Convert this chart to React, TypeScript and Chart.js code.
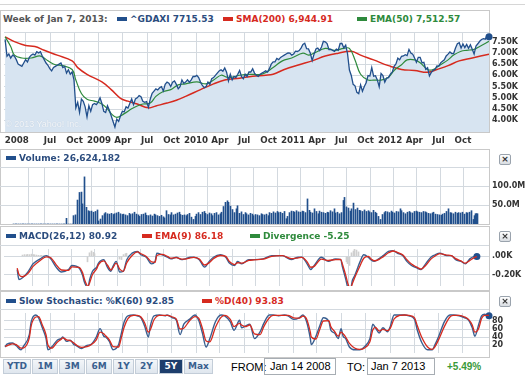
import React, { useEffect, useRef } from 'react';
import { Chart, registerables } from 'chart.js';
Chart.register(...registerables);

// ---------- data ----------
// weekly closes of ^GDAXI, week 0 = week of Jan 14 2008, week 260 = week of Jan 7 2013
const priceValues = [
  7600, 6850, 6950, 6770, 6900, 6850, 6700, 6500, 6450, 6400,
  6550, 6700, 6600, 6800, 6900, 6950, 6900, 7050, 7000, 7050,
  6850, 6700, 6550, 6450, 6300, 6200, 6350, 6400, 6450, 6500,
  6550, 6350, 6400, 6100, 6250, 6050, 6150, 5800, 4550, 4800,
  4350, 4950, 4850, 4600, 4150, 4650, 4400, 4700, 4750, 4700, 4810,
  5000, 4750, 4400, 4350, 4650, 4450, 4200, 3950, 3700, 4050,
  3950, 4200, 4400, 4380, 4600, 4550, 4750, 4950, 4700, 4950,
  5000, 5100, 5050, 4850, 4800, 4830, 4580, 4950, 5200, 5300,
  5400, 5350, 5450, 5500, 5300, 5600, 5700, 5650, 5500, 5700,
  5750, 5600, 5400, 5500, 5800, 5650, 5700, 5800, 5700, 5800, 5950, 5950,
  6000, 5900, 5700, 5550, 5450, 5500, 5700, 5600, 5850, 5900,
  6000, 6100, 6200, 6250, 6180, 6330, 6140, 5750, 6050, 5800,
  5950, 5900, 6050, 6220, 5950, 5850, 6050, 5950, 6150, 6150,
  6300, 6100, 6000, 5950, 6050, 6100, 6150, 6200, 6150, 6300,
  6500, 6600, 6600, 6750, 6700, 6800, 6850, 6900, 6950, 7000, 6990, 6900,
  6947, 7076, 7062, 7102, 7216, 7371, 7426, 7185, 7178, 6982,
  6664, 6946, 7177, 7217, 7104, 7263, 7514, 7492, 7413, 7150,
  7162, 7109, 7069, 7165, 7121, 7419, 7419, 7220, 7344, 6953,
  6236, 5997, 5603, 5537, 5246, 5190, 5574, 5295, 5502, 5675,
  5989, 5971, 6346, 5966, 5986, 5800, 5492, 6080, 5986, 5702, 5878, 5898,
  6057, 6143, 6404, 6512, 6766, 6692, 6849, 6864, 6921, 6880,
  7157, 6996, 6947, 6775, 6583, 6801, 6801, 6561, 6579, 6271,
  6339, 5978, 6130, 6229, 6263, 6416, 6410, 6557, 6630, 6689,
  6865, 6944, 7040, 6972, 6970, 7214, 7412, 7451, 7216, 7398,
  7233, 7380, 7203, 7364, 7163, 6950, 7309, 7405, 7518, 7596,
  7636, 7612, 7776, 7715,
];

const smaWeeks = [0, 5, 11, 16, 21, 28, 36, 39, 44, 52, 57, 62, 66, 71, 77, 81, 87, 92, 97, 105, 112, 118, 126, 133, 140, 144, 150, 158, 165, 172, 179, 186, 191, 198, 206, 213, 220, 227, 232, 238, 244, 251, 260];
const smaValues = [7713, 7500, 7330, 7287, 7116, 6902, 6646, 6347, 6048, 5707, 5365, 4980, 4853, 4725, 4554, 4640, 4767, 4895, 5066, 5365, 5621, 5792, 5877, 5963, 6005, 6048, 6262, 6475, 6646, 6860, 6988, 7073, 6902, 6689, 6432, 6262, 6219, 6134, 6262, 6432, 6646, 6774, 6945];

const emaWeeks = [0, 3, 5, 9, 14, 19, 23, 27, 31, 36, 38, 41, 44, 48, 52, 55, 57, 60, 64, 68, 71, 74, 78, 81, 85, 89, 93, 97, 103, 108, 112, 116, 119, 122, 126, 133, 138, 144, 149, 154, 160, 163, 166, 172, 177, 182, 185, 188, 191, 195, 198, 202, 206, 209, 213, 216, 220, 223, 227, 230, 234, 238, 241, 245, 248, 252, 255, 260];
const emaValues = [7713, 7287, 6902, 6774, 6774, 6860, 6646, 6475, 6432, 6262, 5792, 5194, 4938, 4853, 4725, 4511, 4298, 4127, 4298, 4511, 4640, 4725, 4767, 5066, 5280, 5365, 5579, 5621, 5707, 5621, 5792, 6005, 5920, 5920, 6005, 6048, 6048, 6347, 6646, 6774, 6988, 6902, 6988, 7201, 7116, 7201, 7201, 6689, 6048, 5792, 5792, 5792, 5920, 6219, 6475, 6689, 6689, 6561, 6262, 6262, 6475, 6689, 6902, 7073, 7116, 7158, 7287, 7512];

// weekly volume, millions
const volumeValues = [
  0, 0, 0, 0, 0, 0, 0, 0, 0, 0, 0, 0, 0, 0, 0, 0, 0, 0, 0, 0,
  0, 0, 0, 0, 0, 0, 0, 0, 0, 0, 15, 0, 0, 0,
  22, 24, 63, 83, 84, 53, 124, 44, 35, 33,
  34, 31, 33, 37, 8, 13, 22, 27, 30, 27,
  26, 28, 25, 27, 29, 31, 27, 25, 26, 24,
  22, 28, 25, 27, 31, 26, 24, 20, 25, 26,
  29, 23, 22, 24, 21, 26, 24, 22, 20, 23,
  19, 16, 35, 25, 24, 30, 24, 26, 29, 31,
  25, 23, 24, 22, 25, 28, 18, 12, 20, 26,
  30, 25, 31, 33, 28, 25, 29, 27, 22, 28,
  30, 24, 27, 31, 46, 57, 61, 57, 47, 38,
  30, 40, 48, 28, 32, 25, 30, 27, 24, 28,
  26, 22, 25, 24, 22, 27, 25, 24, 26, 22,
  30, 28, 32, 29, 33, 30, 31, 28, 33, 14,
  20, 30, 34, 33, 31, 35, 32, 31, 34, 33,
  30, 66, 36, 31, 29, 40, 33, 27, 34, 31,
  30, 28, 31, 30, 35, 32, 40, 29, 31, 27,
  30, 62, 70, 45, 42, 34, 40, 55, 38, 42,
  36, 35, 33, 37, 33, 35, 32, 30, 36, 31,
  28, 20, 12, 25, 30, 33, 32, 30, 34, 31,
  29, 33, 32, 40, 35, 30, 27, 31, 33, 30,
  29, 33, 34, 32, 31, 30, 33, 32, 30, 28,
  27, 29, 31, 26, 25, 24, 23, 26, 28, 33,
  40, 30, 29, 27, 31, 28, 30, 29, 31, 26,
  30, 29, 31, 35, 12, 22, 27,
];

const macdWeeks = [0, 1, 3, 6, 9, 13, 16.5, 19, 22, 25, 29, 31, 35, 37, 38, 40, 41, 42.6, 45, 46, 49, 51, 53, 54, 56, 58, 60, 62, 65, 68, 70, 73, 76, 78, 79, 82, 85, 87, 90, 93, 95, 98, 100, 103, 106, 108.6, 111, 115, 118, 120, 123, 124.6, 127, 131, 134, 139, 144, 150, 155, 159, 161, 164, 166, 168, 172, 176, 180, 183, 184, 186, 187, 188.5, 189.6, 191, 194, 196, 198.6, 200, 202, 204.5, 207, 210, 212.5, 215, 218, 220.4, 223, 226, 228.4, 231, 234, 236.4, 239, 243, 245.5, 248, 251, 253.5, 256, 258.8, 260];
const macdValues = [-145, -255, -236, -173, -82, -27, 9, -27, -118, -173, -145, -100, -127, -209, -282, -345, -255, -164, -118, -73, -36, -118, -164, -118, -55, -173, -164, -36, 36, 55, 18, -9, -82, -55, 36, 18, -9, -27, -9, -36, -27, -9, -9, -36, -118, -55, -9, 18, -9, -73, -100, -55, -82, -36, -36, -27, 9, 9, -36, -9, -9, -82, -145, -100, -9, -55, -27, -36, -118, -264, -345, -364, -264, -209, -55, 18, -9, -36, -55, -27, 9, 55, 64, 36, 9, -55, -100, -127, -145, -82, -9, 18, 36, 9, 9, -36, -55, -82, -27, 0, 0];
const signalValues = [-130, -200, -225, -190, -110, -45, -5, -15, -90, -150, -155, -115, -120, -180, -250, -330, -290, -200, -135, -90, -50, -95, -150, -130, -75, -140, -165, -70, 10, 50, 30, 0, -60, -65, 10, 22, 0, -20, -14, -30, -30, -15, -10, -28, -95, -70, -25, 10, 0, -55, -90, -70, -75, -45, -38, -30, 0, 8, -25, -15, -10, -60, -120, -110, -30, -45, -35, -33, -90, -220, -300, -350, -300, -230, -100, -20, 0, -25, -48, -35, -5, 40, 60, 45, 18, -35, -85, -118, -140, -100, -30, 5, 30, 15, 10, -25, -50, -75, -45, -10, -2];

const divWeeks = [3, 4, 5, 6, 7, 8, 9, 10, 11, 12, 13, 14, 15, 16, 17, 18, 19, 40, 41, 42, 43, 44, 58, 59, 60, 61, 62, 186, 187, 188, 189, 190, 191, 192, 193];
const divValues = [15, 20, 18, 22, 20, 25, 20, 18, 15, 12, 10, 12, 10, 8, -8, -10, -15, -60, 40, 60, 45, 30, -30, -35, 20, 30, 35, -60, -80, -100, 40, 60, 80, 70, 50];

const stochWeeks = [0, 1, 4, 6, 8.5, 10, 13, 14, 16.5, 18, 20, 22, 23, 25, 28, 30, 31, 33, 35, 37, 38, 41, 44, 46, 49, 51, 53, 54, 56, 58, 61, 62, 64, 66, 69, 71, 73, 75, 77, 78, 80, 83, 86, 87, 90, 92, 94, 96, 99, 102, 104, 106, 108, 110, 113, 116, 118, 121, 123, 126, 127, 129, 131.5, 134, 137, 139, 142, 144, 147, 150, 152, 155, 158, 160, 162, 164, 164.5, 167, 169, 171, 174, 175, 177, 179, 180.5, 181.6, 183, 185, 188, 190.6, 193, 196, 197.6, 199, 201, 203, 205.5, 207, 209, 212, 214.6, 217, 220, 221.5, 224, 227, 229.5, 231, 233, 236, 239, 241, 244, 247, 249, 251, 252.4, 254.5, 256, 257.7, 259.3, 260];
const stochK = [15, 22, 25, 18, 8, 18, 46, 78, 95, 88, 63, 36, 8, 15, 32, 36, 40, 29, 32, 21, 19, 11, 19, 21, 40, 61, 42, 40, 29, 8, 21, 40, 78, 93, 95, 93, 88, 67, 40, 67, 93, 95, 93, 95, 88, 82, 46, 72, 84, 95, 82, 50, 15, 36, 78, 95, 93, 78, 57, 82, 63, 67, 72, 36, 53, 74, 95, 95, 93, 95, 93, 84, 88, 95, 78, 36, 21, 42, 67, 88, 78, 57, 50, 36, 61, 42, 36, 15, 8, 8, 15, 36, 72, 63, 50, 63, 53, 67, 95, 95, 95, 93, 84, 57, 25, 8, 8, 21, 42, 78, 95, 95, 93, 88, 82, 63, 42, 72, 93, 97, 93, 93];
const stochD = [17, 18, 23, 21, 12, 13, 38, 68, 90, 91, 70, 45, 20, 12, 27, 34, 38, 33, 31, 25, 21, 14, 16, 20, 33, 52, 48, 43, 33, 16, 15, 30, 65, 86, 94, 94, 90, 75, 52, 58, 83, 94, 94, 94, 90, 85, 60, 62, 80, 91, 87, 62, 30, 28, 64, 89, 94, 84, 66, 74, 70, 66, 70, 48, 46, 66, 88, 94, 94, 94, 94, 88, 87, 92, 85, 52, 40, 35, 58, 80, 81, 66, 54, 42, 52, 48, 40, 24, 12, 9, 12, 28, 58, 64, 55, 59, 56, 62, 85, 94, 95, 94, 88, 68, 38, 15, 9, 16, 34, 66, 90, 94, 94, 90, 84, 70, 52, 62, 86, 94, 94, 94];

const xTickLabels = ['2008', '', 'Jul', 'Oct', '2009', 'Apr', 'Jul', 'Oct', '2010', 'Apr', 'Jul', 'Oct', '2011', 'Apr', 'Jul', 'Oct', '2012', 'Apr', 'Jul', 'Oct'];
const xTickDates = ['2008-02-27', '2008-04-01', '2008-07-01', '2008-10-01', '2009-01-01', '2009-04-01', '2009-07-01', '2009-10-01', '2010-01-01', '2010-04-01', '2010-07-01', '2010-10-01', '2011-01-01', '2011-04-01', '2011-07-01', '2011-10-01', '2012-01-01', '2012-04-01', '2012-07-01', '2012-10-01'];
const priceTicks = [4000, 4500, 5000, 5500, 6000, 6500, 7000, 7500];
const volumeTicks = [50, 100];
const macdTicks = [-200, 0];
const stochTicks = [20, 40, 60, 80];

// ---------- styling ----------
const FONT = '"DejaVu Sans", Verdana, sans-serif';
const GRID = '#d3d9df';
const BLUE = '#214f8c';
const RED = '#d62a1f';
const GREEN = '#2e8a3c';
const FILL = '#d7e4f1';
const TXT_BLUE = '#2b4c7e';

const START = Date.parse('2008-01-14T00:00:00Z');
const xTickWeeks = xTickDates.map((d) => (Date.parse(d + 'T00:00:00Z') - START) / 604800000);

// keeps 1px bars on whole pixels so they stay crisp
const snapBars = {
  id: 'snapBars',
  afterDatasetsUpdate(chart: any) {
    chart.data.datasets.forEach((_d: any, i: number) => {
      const meta = chart.getDatasetMeta(i);
      if (meta.type !== 'bar') return;
      meta.data.forEach((el: any) => {
        el.x = Math.floor(el.x) + 0.5;
      });
    });
  },
};

function xScale(showLabels: boolean): any {
  return {
    type: 'linear',
    min: -0.6,
    max: 260,
    afterBuildTicks: (s: any) => {
      s.ticks = xTickWeeks.map((v) => ({ value: v }));
    },
    afterFit: (s: any) => {
      s.height = showLabels ? 18 : 0;
      s.paddingLeft = 0;
      s.paddingRight = 0;
    },
    ticks: {
      display: showLabels,
      autoSkip: false,
      maxRotation: 0,
      minRotation: 0,
      padding: 4,
      color: '#333',
      font: { family: FONT, size: 8.7, weight: 'bold' },
      callback: (_v: any, i: number) => xTickLabels[i],
    },
    grid: {
      color: (c: any) => (c.index === 0 ? 'rgba(0,0,0,0)' : GRID),
      drawTicks: false,
    },
    border: { display: false },
  };
}

function yScale(min: number, max: number, ticks: number[], fmt: (v: number) => string): any {
  return {
    position: 'right',
    min,
    max,
    afterBuildTicks: (s: any) => {
      s.ticks = ticks.map((v) => ({ value: v }));
    },
    afterFit: (s: any) => {
      s.width = 36;
      s.paddingTop = 0;
      s.paddingBottom = 0;
    },
    ticks: {
      autoSkip: false,
      padding: 3,
      color: '#333',
      font: { family: FONT, size: 8, weight: 'bold' },
      callback: (v: number) => fmt(v),
    },
    grid: { color: GRID, drawTicks: false },
    border: { display: false },
  };
}

const baseOptions = (x: any, y: any): any => ({
  animation: false,
  responsive: false,
  events: [],
  layout: { padding: 0 },
  plugins: {
    legend: { display: false },
    tooltip: { enabled: false },
    filler: { drawTime: 'beforeDatasetsDraw', propagate: false },
  },
  scales: { x, y },
});

const pts = (xs: number[], ys: number[]) => ys.map((y, i) => ({ x: xs[i], y }));
const lastDot = (n: number, r: number) => (c: any) => (c.dataIndex === n - 1 ? r : 0);

function Legend(props: { x: number; y: number; color: string; text: string; swatch?: string }) {
  const { x, y, color, text, swatch } = props;
  return (
    <div style={{ position: 'absolute', left: x, top: y - 6, height: 12, lineHeight: '12px', whiteSpace: 'nowrap', fontFamily: FONT, fontWeight: 'bold', fontSize: 9, color }}>
      {swatch ? <span style={{ display: 'inline-block', width: 10, height: 4, background: swatch, marginRight: 3, verticalAlign: 'middle', position: 'relative', top: -1 }} /> : null}
      {text}
    </div>
  );
}

function CloseBtn({ y }: { y: number }) {
  return (
    <div style={{ position: 'absolute', left: 499, top: y, width: 10, height: 9, border: '1px solid #9aa3ad', borderRadius: 2, background: 'linear-gradient(#ffffff,#d9dde2)', fontFamily: FONT, fontSize: 9, lineHeight: '9px', textAlign: 'center', color: '#333', fontWeight: 'bold' }}>×</div>
  );
}

function HLine({ y, x = 0, w = 489, c = '#c9c9c9' }: { y: number; x?: number; w?: number; c?: string }) {
  return <div style={{ position: 'absolute', left: x, top: y, width: w, height: 1, background: c }} />;
}

function Box({ top, height }: { top: number; height: number }) {
  return <div style={{ position: 'absolute', left: 0, top, width: 490, height, boxSizing: 'border-box', border: '1px solid #c9c9c9' }} />;
}

const buttons = [
  { t: 'YTD', x: 3, w: 28 },
  { t: '1M', x: 32, w: 26 },
  { t: '3M', x: 59, w: 26 },
  { t: '6M', x: 86, w: 26 },
  { t: '1Y', x: 113, w: 21 },
  { t: '2Y', x: 135, w: 23 },
  { t: '5Y', x: 159, w: 24 },
  { t: 'Max', x: 184, w: 29 },
];

export default function App() {
  const mainRef = useRef<HTMLCanvasElement>(null);
  const volRef = useRef<HTMLCanvasElement>(null);
  const macdRef = useRef<HTMLCanvasElement>(null);
  const stochRef = useRef<HTMLCanvasElement>(null);

  useEffect(() => {
    const charts: Chart[] = [];
    const nP = priceValues.length;

    charts.push(
      new Chart(mainRef.current as HTMLCanvasElement, {
        type: 'line',
        data: {
          datasets: [
            {
              data: priceValues.map((y, i) => ({ x: i, y })),
              borderColor: BLUE,
              borderWidth: 1.3,
              backgroundColor: FILL,
              fill: 'start',
              tension: 0,
              pointRadius: lastDot(nP, 3.5),
              pointBackgroundColor: BLUE,
              pointBorderWidth: 0,
              clip: { left: 0, right: 5, top: 5, bottom: 0 },
            },
            { data: pts(emaWeeks, emaValues), borderColor: GREEN, borderWidth: 1.2, pointRadius: 0, tension: 0.4, fill: false },
            { data: pts(smaWeeks, smaValues), borderColor: RED, borderWidth: 1.5, pointRadius: 0, tension: 0.4, fill: false },
          ],
        } as any,
        options: baseOptions(
          xScale(true),
          yScale(3480, 7930, [...priceTicks, 7930], (v) => (v === 7930 ? '' : (v / 1000).toFixed(2) + 'K'))
        ),
      })
    );

    const nV = volumeValues.length;
    charts.push(
      new Chart(volRef.current as HTMLCanvasElement, {
        type: 'bar',
        data: {
          datasets: [
            { data: volumeValues.map((y, i) => ({ x: i, y })), backgroundColor: BLUE, barThickness: 1, grouped: false },
            { data: [{ x: nV - 1, y: volumeValues[nV - 1] }], backgroundColor: BLUE, barThickness: 3, grouped: false },
          ],
        } as any,
        options: baseOptions(xScale(false), yScale(0, 150, volumeTicks, (v) => v.toFixed(1) + 'M')),
        plugins: [snapBars],
      })
    );

    charts.push(
      new Chart(macdRef.current as HTMLCanvasElement, {
        type: 'line',
        data: {
          datasets: [
            { data: pts(macdWeeks, signalValues), borderColor: RED, borderWidth: 1.3, pointRadius: 0, cubicInterpolationMode: 'monotone', fill: false },
            {
              data: pts(macdWeeks, macdValues),
              borderColor: '#3a5f90',
              borderWidth: 1.4,
              cubicInterpolationMode: 'monotone',
              fill: false,
              pointRadius: lastDot(macdValues.length, 3.5),
              pointBackgroundColor: BLUE,
              pointBorderWidth: 0,
              clip: { left: 0, right: 5, top: 0, bottom: 0 },
            },
            { type: 'bar', data: pts(divWeeks, divValues), backgroundColor: '#cfcfcf', barThickness: 1 },
          ],
        } as any,
        options: baseOptions(xScale(false), yScale(-327, 82, macdTicks, (v) => (v === 0 ? '.00K' : '-0.20K'))),
        plugins: [snapBars],
      })
    );

    charts.push(
      new Chart(stochRef.current as HTMLCanvasElement, {
        type: 'line',
        data: {
          datasets: [
            { data: pts(stochWeeks, stochD), borderColor: RED, borderWidth: 1.3, pointRadius: 0, cubicInterpolationMode: 'monotone', fill: false },
            {
              data: pts(stochWeeks, stochK),
              borderColor: '#3a5f90',
              borderWidth: 1.4,
              cubicInterpolationMode: 'monotone',
              fill: false,
              pointRadius: lastDot(stochK.length, 3.5),
              pointBackgroundColor: BLUE,
              pointBorderWidth: 0,
              clip: { left: 0, right: 5, top: 5, bottom: 0 },
            },
          ],
        } as any,
        options: baseOptions(xScale(false), yScale(0, 100, stochTicks, (v) => String(v))),
      })
    );

    return () => charts.forEach((c) => c.destroy());
  }, []);

  const cv = (top: number, height: number): React.CSSProperties => ({ position: 'absolute', left: 0, top, width: 525, height });

  return (
    <div style={{ position: 'fixed', left: 0, top: 0, width: 525, height: 376, background: '#fff', overflow: 'hidden' }}>
      <HLine y={4} w={525} c="#d6d6d6" />
      <Box top={10} height={123} />
      <Box top={149} height={76} />
      <Box top={226} height={65} />
      <Box top={291} height={67} />
      <HLine y={167} c={GRID} />
      <HLine y={245} c={GRID} />
      <HLine y={309} c={GRID} />

      <canvas ref={mainRef} width={525} height={122} style={cv(28, 122)} />
      <canvas ref={volRef} width={525} height={57} style={cv(167, 57)} />
      <canvas ref={macdRef} width={525} height={45} style={cv(245, 45)} />
      <canvas ref={stochRef} width={525} height={48} style={cv(309, 48)} />

      <div style={{ position: 'absolute', left: 5, top: 119, fontFamily: '"Liberation Sans", Arial, sans-serif', fontSize: 9, color: 'rgba(255,255,255,0.85)', textShadow: '0 0 1px #aebfd2' }}>© 2013 Yahoo! Inc.</div>

      <Legend x={3} y={19} color="#555" text="Week of Jan 7, 2013:" />
      <Legend x={117} y={19} color={TXT_BLUE} swatch={BLUE} text="^GDAXI 7715.53" />
      <Legend x={223} y={19} color={RED} swatch={RED} text="SMA(200) 6,944.91" />
      <Legend x={357} y={19} color={GREEN} swatch={GREEN} text="EMA(50) 7,512.57" />

      <Legend x={6} y={158} color={TXT_BLUE} swatch={BLUE} text="Volume: 26,624,182" />
      <Legend x={6} y={236} color={TXT_BLUE} swatch={BLUE} text="MACD(26,12) 80.92" />
      <Legend x={142} y={236} color={RED} swatch={RED} text="EMA(9) 86.18" />
      <Legend x={250} y={236} color={GREEN} swatch={GREEN} text="Divergence -5.25" />
      <Legend x={6} y={301} color={TXT_BLUE} swatch={BLUE} text="Slow Stochastic: %K(60) 92.85" />
      <Legend x={202} y={301} color={RED} swatch={RED} text="%D(40) 93.83" />

      <CloseBtn y={154} />
      <CloseBtn y={231} />
      <CloseBtn y={296} />

      {buttons.map((b) => (
        <div key={b.t} style={{ position: 'absolute', left: b.x, top: 359, width: b.w, height: 15, boxSizing: 'border-box', border: '1px solid #c3cdd8', background: b.t === '5Y' ? '#1d3e6c' : 'linear-gradient(#f3f6f9,#dfe6ee)', color: b.t === '5Y' ? '#fff' : '#3a5f8f', fontFamily: FONT, fontWeight: 'bold', fontSize: 9, lineHeight: '13px', textAlign: 'center' }}>{b.t}</div>
      ))}

      <div style={{ position: 'absolute', left: 231, top: 360, fontFamily: '"Liberation Sans", Arial, sans-serif', fontSize: 11, lineHeight: '14px', color: '#000' }}>FROM:</div>
      <div style={{ position: 'absolute', left: 264, top: 358, width: 72, height: 17, boxSizing: 'border-box', border: '1px solid #a7adb3', fontFamily: '"Liberation Sans", Arial, sans-serif', fontSize: 11, lineHeight: '15px', paddingLeft: 5, color: '#000' }}>Jan 14 2008</div>
      <div style={{ position: 'absolute', left: 347, top: 360, fontFamily: '"Liberation Sans", Arial, sans-serif', fontSize: 11, lineHeight: '14px', color: '#000' }}>TO:</div>
      <div style={{ position: 'absolute', left: 367, top: 358, width: 68, height: 17, boxSizing: 'border-box', border: '1px solid #a7adb3', fontFamily: '"Liberation Sans", Arial, sans-serif', fontSize: 11, lineHeight: '15px', paddingLeft: 3, color: '#000' }}>Jan 7 2013</div>
      <div style={{ position: 'absolute', left: 447, top: 360, fontFamily: '"Liberation Sans", Arial, sans-serif', fontSize: 10, fontWeight: 'bold', lineHeight: '14px', color: '#3a9a3a' }}>+5.49%</div>
    </div>
  );
}
